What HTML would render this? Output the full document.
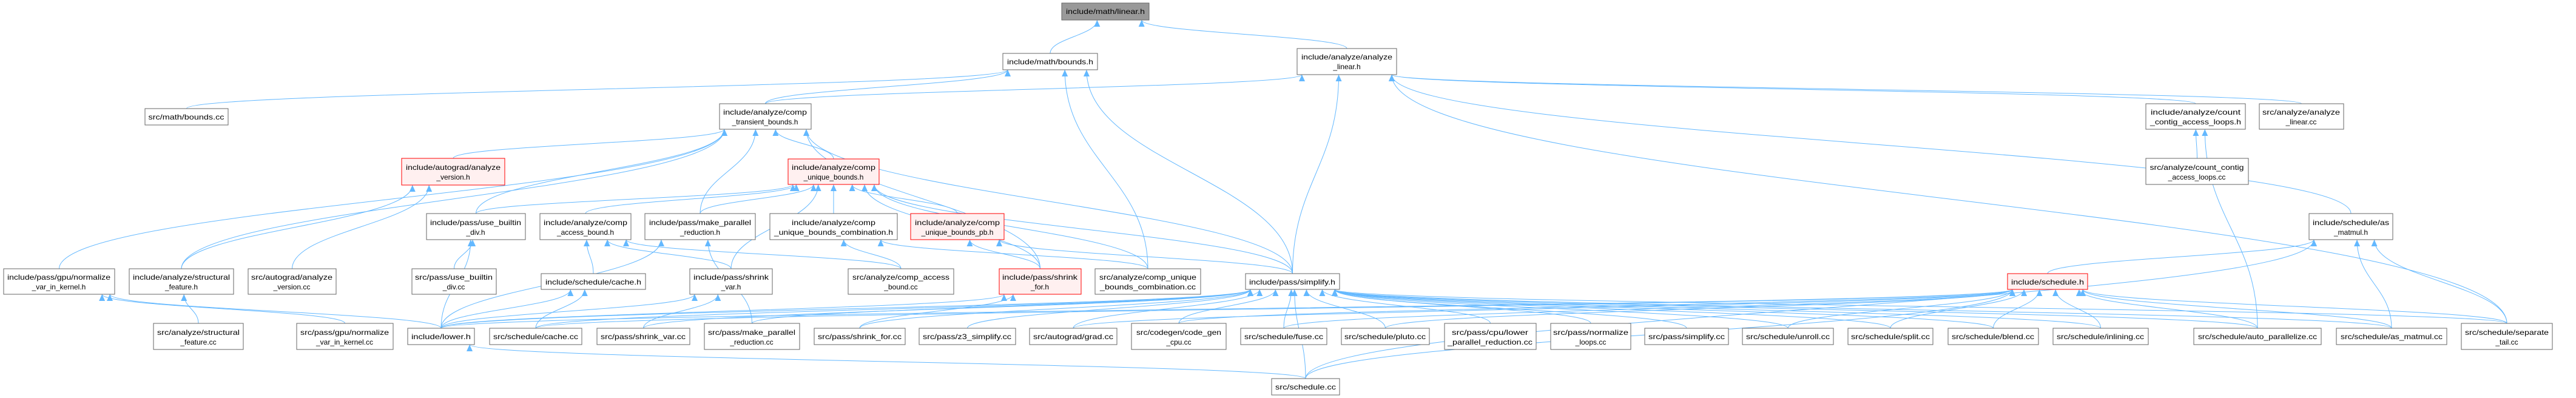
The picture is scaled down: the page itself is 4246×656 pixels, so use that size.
<!DOCTYPE html>
<html><head><meta charset="utf-8">
<style>
html,body{margin:0;padding:0;background:#fff;}
svg{display:block;}
text{font-family:"Liberation Sans",sans-serif;font-size:12px;fill:#000;}
</style></head>
<body>
<svg id="g" xmlns="http://www.w3.org/2000/svg" width="4246" height="656" viewBox="0 0 4246 656">
<defs>
<marker id="ah" markerUnits="userSpaceOnUse" markerWidth="12" markerHeight="10" refX="11" refY="5" orient="auto">
<path d="M0,0 L11,5 L0,10 z" fill="#63b8ff"/>
</marker>
</defs>
<g id="edges" fill="none" stroke="#63b8ff" stroke-width="1"></g>
<g id="nodes" stroke-width="1">
<rect x="1750" y="5" width="144" height="28" fill="#999" stroke="#666"/><text x="1822" y="23" text-anchor="middle" textLength="130" lengthAdjust="spacingAndGlyphs">include/math/linear.h</text>
<rect x="1653" y="88" width="156" height="27" fill="#fff" stroke="#666"/><text x="1731" y="106" text-anchor="middle" textLength="142" lengthAdjust="spacingAndGlyphs">include/math/bounds.h</text>
<rect x="2138" y="80" width="164" height="43" fill="#fff" stroke="#666"/><text x="2220" y="98" text-anchor="middle" textLength="150" lengthAdjust="spacingAndGlyphs">include/analyze/analyze</text><text x="2220" y="114" text-anchor="middle">_linear.h</text>
<rect x="239" y="179" width="137" height="27" fill="#fff" stroke="#666"/><text x="307" y="197" text-anchor="middle" textLength="125" lengthAdjust="spacingAndGlyphs">src/math/bounds.cc</text>
<rect x="1186" y="171" width="151" height="42" fill="#fff" stroke="#666"/><text x="1261" y="189" text-anchor="middle" textLength="138" lengthAdjust="spacingAndGlyphs">include/analyze/comp</text><text x="1261" y="205" text-anchor="middle">_transient_bounds.h</text>
<rect x="3537" y="171" width="164" height="42" fill="#fff" stroke="#666"/><text x="3619" y="189" text-anchor="middle" textLength="148" lengthAdjust="spacingAndGlyphs">include/analyze/count</text><text x="3619" y="205" text-anchor="middle" textLength="150" lengthAdjust="spacingAndGlyphs">_contig_access_loops.h</text>
<rect x="3724" y="171" width="139" height="42" fill="#fff" stroke="#666"/><text x="3793" y="189" text-anchor="middle" textLength="128" lengthAdjust="spacingAndGlyphs">src/analyze/analyze</text><text x="3793" y="205" text-anchor="middle">_linear.cc</text>
<rect x="662" y="261" width="170" height="44" fill="#fff0f0" stroke="#f00"/><text x="747" y="280" text-anchor="middle" textLength="156" lengthAdjust="spacingAndGlyphs">include/autograd/analyze</text><text x="747" y="296" text-anchor="middle">_version.h</text>
<rect x="1299" y="262" width="150" height="42" fill="#fff0f0" stroke="#f00"/><text x="1374" y="280" text-anchor="middle" textLength="138" lengthAdjust="spacingAndGlyphs">include/analyze/comp</text><text x="1374" y="296" text-anchor="middle">_unique_bounds.h</text>
<rect x="3537" y="261" width="169" height="43" fill="#fff" stroke="#666"/><text x="3621" y="280" text-anchor="middle" textLength="155" lengthAdjust="spacingAndGlyphs">src/analyze/count_contig</text><text x="3621" y="296" text-anchor="middle">_access_loops.cc</text>
<rect x="703" y="352" width="163" height="43" fill="#fff" stroke="#666"/><text x="784" y="371" text-anchor="middle" textLength="150" lengthAdjust="spacingAndGlyphs">include/pass/use_builtin</text><text x="784" y="387" text-anchor="middle">_div.h</text>
<rect x="890" y="352" width="150" height="43" fill="#fff" stroke="#666"/><text x="965" y="371" text-anchor="middle" textLength="138" lengthAdjust="spacingAndGlyphs">include/analyze/comp</text><text x="965" y="387" text-anchor="middle">_access_bound.h</text>
<rect x="1063" y="352" width="182" height="43" fill="#fff" stroke="#666"/><text x="1154" y="371" text-anchor="middle" textLength="168" lengthAdjust="spacingAndGlyphs">include/pass/make_parallel</text><text x="1154" y="387" text-anchor="middle">_reduction.h</text>
<rect x="1269" y="352" width="210" height="43" fill="#fff" stroke="#666"/><text x="1374" y="371" text-anchor="middle" textLength="138" lengthAdjust="spacingAndGlyphs">include/analyze/comp</text><text x="1374" y="387" text-anchor="middle" textLength="196" lengthAdjust="spacingAndGlyphs">_unique_bounds_combination.h</text>
<rect x="1501" y="352" width="154" height="43" fill="#fff0f0" stroke="#f00"/><text x="1578" y="371" text-anchor="middle" textLength="140" lengthAdjust="spacingAndGlyphs">include/analyze/comp</text><text x="1578" y="387" text-anchor="middle">_unique_bounds_pb.h</text>
<rect x="3806" y="352" width="138" height="43" fill="#fff" stroke="#666"/><text x="3875" y="371" text-anchor="middle" textLength="126" lengthAdjust="spacingAndGlyphs">include/schedule/as</text><text x="3875" y="387" text-anchor="middle">_matmul.h</text>
<rect x="6" y="443" width="183" height="42" fill="#fff" stroke="#666"/><text x="97" y="461" text-anchor="middle" textLength="170" lengthAdjust="spacingAndGlyphs">include/pass/gpu/normalize</text><text x="97" y="477" text-anchor="middle">_var_in_kernel.h</text>
<rect x="213" y="443" width="172" height="42" fill="#fff" stroke="#666"/><text x="299" y="461" text-anchor="middle" textLength="160" lengthAdjust="spacingAndGlyphs">include/analyze/structural</text><text x="299" y="477" text-anchor="middle">_feature.h</text>
<rect x="409" y="443" width="145" height="42" fill="#fff" stroke="#666"/><text x="481" y="461" text-anchor="middle" textLength="134" lengthAdjust="spacingAndGlyphs">src/autograd/analyze</text><text x="481" y="477" text-anchor="middle">_version.cc</text>
<rect x="679" y="443" width="139" height="42" fill="#fff" stroke="#666"/><text x="748" y="461" text-anchor="middle" textLength="128" lengthAdjust="spacingAndGlyphs">src/pass/use_builtin</text><text x="748" y="477" text-anchor="middle">_div.cc</text>
<rect x="892" y="451" width="172" height="26" fill="#fff" stroke="#666"/><text x="978" y="469" text-anchor="middle" textLength="158" lengthAdjust="spacingAndGlyphs">include/schedule/cache.h</text>
<rect x="1137" y="443" width="136" height="42" fill="#fff" stroke="#666"/><text x="1205" y="461" text-anchor="middle" textLength="124" lengthAdjust="spacingAndGlyphs">include/pass/shrink</text><text x="1205" y="477" text-anchor="middle">_var.h</text>
<rect x="1398" y="443" width="174" height="42" fill="#fff" stroke="#666"/><text x="1485" y="461" text-anchor="middle" textLength="160" lengthAdjust="spacingAndGlyphs">src/analyze/comp_access</text><text x="1485" y="477" text-anchor="middle">_bound.cc</text>
<rect x="1647" y="443" width="135" height="42" fill="#fff0f0" stroke="#f00"/><text x="1714" y="461" text-anchor="middle" textLength="124" lengthAdjust="spacingAndGlyphs">include/pass/shrink</text><text x="1714" y="477" text-anchor="middle">_for.h</text>
<rect x="1805" y="443" width="174" height="42" fill="#fff" stroke="#666"/><text x="1892" y="461" text-anchor="middle" textLength="160" lengthAdjust="spacingAndGlyphs">src/analyze/comp_unique</text><text x="1892" y="477" text-anchor="middle" textLength="158" lengthAdjust="spacingAndGlyphs">_bounds_combination.cc</text>
<rect x="2053" y="451" width="155" height="26" fill="#fff" stroke="#666"/><text x="2130" y="469" text-anchor="middle" textLength="142" lengthAdjust="spacingAndGlyphs">include/pass/simplify.h</text>
<rect x="3309" y="451" width="132" height="26" fill="#fff0f0" stroke="#f00"/><text x="3375" y="469" text-anchor="middle" textLength="120" lengthAdjust="spacingAndGlyphs">include/schedule.h</text>
<rect x="253" y="533" width="148" height="43" fill="#fff" stroke="#666"/><text x="327" y="552" text-anchor="middle" textLength="136" lengthAdjust="spacingAndGlyphs">src/analyze/structural</text><text x="327" y="568" text-anchor="middle">_feature.cc</text>
<rect x="489" y="533" width="159" height="43" fill="#fff" stroke="#666"/><text x="568" y="552" text-anchor="middle" textLength="146" lengthAdjust="spacingAndGlyphs">src/pass/gpu/normalize</text><text x="568" y="568" text-anchor="middle">_var_in_kernel.cc</text>
<rect x="672" y="541" width="110" height="27" fill="#fff" stroke="#666"/><text x="727" y="559" text-anchor="middle" textLength="98" lengthAdjust="spacingAndGlyphs">include/lower.h</text>
<rect x="807" y="541" width="152" height="27" fill="#fff" stroke="#666"/><text x="883" y="559" text-anchor="middle" textLength="140" lengthAdjust="spacingAndGlyphs">src/schedule/cache.cc</text>
<rect x="984" y="541" width="153" height="27" fill="#fff" stroke="#666"/><text x="1060" y="559" text-anchor="middle" textLength="140" lengthAdjust="spacingAndGlyphs">src/pass/shrink_var.cc</text>
<rect x="1161" y="533" width="157" height="43" fill="#fff" stroke="#666"/><text x="1239" y="552" text-anchor="middle" textLength="144" lengthAdjust="spacingAndGlyphs">src/pass/make_parallel</text><text x="1239" y="568" text-anchor="middle">_reduction.cc</text>
<rect x="1342" y="541" width="150" height="27" fill="#fff" stroke="#666"/><text x="1417" y="559" text-anchor="middle" textLength="138" lengthAdjust="spacingAndGlyphs">src/pass/shrink_for.cc</text>
<rect x="1515" y="541" width="159" height="27" fill="#fff" stroke="#666"/><text x="1594" y="559" text-anchor="middle" textLength="146" lengthAdjust="spacingAndGlyphs">src/pass/z3_simplify.cc</text>
<rect x="1697" y="541" width="144" height="27" fill="#fff" stroke="#666"/><text x="1769" y="559" text-anchor="middle" textLength="132" lengthAdjust="spacingAndGlyphs">src/autograd/grad.cc</text>
<rect x="1865" y="533" width="156" height="43" fill="#fff" stroke="#666"/><text x="1943" y="552" text-anchor="middle" textLength="140" lengthAdjust="spacingAndGlyphs">src/codegen/code_gen</text><text x="1943" y="568" text-anchor="middle">_cpu.cc</text>
<rect x="2045" y="541" width="142" height="27" fill="#fff" stroke="#666"/><text x="2116" y="559" text-anchor="middle" textLength="130" lengthAdjust="spacingAndGlyphs">src/schedule/fuse.cc</text>
<rect x="2211" y="541" width="145" height="27" fill="#fff" stroke="#666"/><text x="2283" y="559" text-anchor="middle" textLength="134" lengthAdjust="spacingAndGlyphs">src/schedule/pluto.cc</text>
<rect x="2381" y="533" width="151" height="43" fill="#fff" stroke="#666"/><text x="2456" y="552" text-anchor="middle" textLength="126" lengthAdjust="spacingAndGlyphs">src/pass/cpu/lower</text><text x="2456" y="568" text-anchor="middle" textLength="140" lengthAdjust="spacingAndGlyphs">_parallel_reduction.cc</text>
<rect x="2556" y="533" width="132" height="43" fill="#fff" stroke="#666"/><text x="2622" y="552" text-anchor="middle" textLength="124" lengthAdjust="spacingAndGlyphs">src/pass/normalize</text><text x="2622" y="568" text-anchor="middle">_loops.cc</text>
<rect x="2711" y="541" width="138" height="27" fill="#fff" stroke="#666"/><text x="2780" y="559" text-anchor="middle" textLength="126" lengthAdjust="spacingAndGlyphs">src/pass/simplify.cc</text>
<rect x="2872" y="541" width="150" height="27" fill="#fff" stroke="#666"/><text x="2947" y="559" text-anchor="middle" textLength="138" lengthAdjust="spacingAndGlyphs">src/schedule/unroll.cc</text>
<rect x="3046" y="541" width="140" height="27" fill="#fff" stroke="#666"/><text x="3116" y="559" text-anchor="middle" textLength="130" lengthAdjust="spacingAndGlyphs">src/schedule/split.cc</text>
<rect x="3211" y="541" width="149" height="27" fill="#fff" stroke="#666"/><text x="3285" y="559" text-anchor="middle" textLength="136" lengthAdjust="spacingAndGlyphs">src/schedule/blend.cc</text>
<rect x="3384" y="541" width="157" height="27" fill="#fff" stroke="#666"/><text x="3462" y="559" text-anchor="middle" textLength="144" lengthAdjust="spacingAndGlyphs">src/schedule/inlining.cc</text>
<rect x="3616" y="541" width="210" height="27" fill="#fff" stroke="#666"/><text x="3721" y="559" text-anchor="middle" textLength="196" lengthAdjust="spacingAndGlyphs">src/schedule/auto_parallelize.cc</text>
<rect x="3851" y="541" width="182" height="27" fill="#fff" stroke="#666"/><text x="3942" y="559" text-anchor="middle" textLength="168" lengthAdjust="spacingAndGlyphs">src/schedule/as_matmul.cc</text>
<rect x="4057" y="533" width="150" height="43" fill="#fff" stroke="#666"/><text x="4132" y="552" text-anchor="middle" textLength="138" lengthAdjust="spacingAndGlyphs">src/schedule/separate</text><text x="4132" y="568" text-anchor="middle">_tail.cc</text>
<rect x="2096" y="624" width="112" height="27" fill="#fff" stroke="#666"/><text x="2152" y="642" text-anchor="middle" textLength="100" lengthAdjust="spacingAndGlyphs">src/schedule.cc</text>
</g>
</svg>
<script>
var N={L:[1750,5,144,28],MB:[1653,88,156,27],AL:[2138,80,164,43],MBC:[239,179,137,27],CT:[1186,171,151,42],CC:[3537,171,164,42],ALC:[3724,171,139,42],AV:[662,261,170,44],CU:[1299,262,150,42],CCC:[3537,261,169,43],UBD:[703,352,163,43],CAB:[890,352,150,43],MPR:[1063,352,182,43],CUC:[1269,352,210,43],CUP:[1501,352,154,43],ASM:[3806,352,138,43],NVK:[6,443,183,42],SF:[213,443,172,42],AVC:[409,443,145,42],UBDC:[679,443,139,42],CH:[892,451,172,26],SV:[1137,443,136,42],CABC:[1398,443,174,42],SFH:[1647,443,135,42],CUCC:[1805,443,174,42],SIM:[2053,451,155,26],SCH:[3309,451,132,26],SFC:[253,533,148,43],NVKC:[489,533,159,43],LOW:[672,541,110,27],CHC:[807,541,152,27],SVC:[984,541,153,27],MPRC:[1161,533,157,43],SFORC:[1342,541,150,27],Z3:[1515,541,159,27],GRAD:[1697,541,144,27],CGC:[1865,533,156,43],FUSE:[2045,541,142,27],PLUTO:[2211,541,145,27],LPR:[2381,533,151,43],NL:[2556,533,132,43],SIMC:[2711,541,138,27],UNR:[2872,541,150,27],SPL:[3046,541,140,27],BLEND:[3211,541,149,27],INL:[3384,541,157,27],AP:[3616,541,210,27],ASMC:[3851,541,182,27],STC:[4057,533,150,43],SCHC:[2096,624,112,27]};
var E=[["MB","L"],["AL","L"],["MBC","MB"],["CT","MB"],["CT","AL"],["CU","CT"],["AV","CT"],["CC","AL"],["ALC","AL"],["ASM","AL"],["STC","AL"],["CCC","CC"],["AP","CC"],["SCH","ASM"],["ASMC","ASM"],["STC","ASM"],["SCHC","ASM"],
["CUC","CU"],["CUP","CU"],["SFH","CU"],["SIM","CU"],["SIM","CT"],["SIM","MB"],["SIM","AL"],["SFH","CT"],["CAB","CU"],["MPR","CU"],["UBD","CU"],["SV","CU"],["MPR","CT"],["UBD","CT"],["NVK","CT"],["SF","CT"],["AVC","AV"],["SF","AV"],["CUCC","CUC"],["CUCC","MB"],["CUCC","CU"],["CABC","CAB"],["CABC","CUC"],["SFH","CUP"],["SIM","CUP"],["SV","CAB"],["CH","CAB"],["LOW","UBD"],["UBDC","UBD"],["NVKC","NVK"],["LOW","NVK"],["SFC","SF"],["CHC","CH"],["LOW","CH"],["SVC","SV"],["LOW","SV"],["MPRC","MPR"],["LOW","MPR"],["SFORC","SFH"],["LOW","SFH"],
["LOW","SIM"],["Z3","SIM"],["GRAD","SIM"],["CGC","SIM"],["FUSE","SIM"],["PLUTO","SIM"],["LPR","SIM"],["NL","SIM"],["SIMC","SIM"],["UNR","SIM"],["SPL","SIM"],["BLEND","SIM"],["INL","SIM"],["AP","SIM"],["ASMC","SIM"],["STC","SIM"],["MPRC","SIM"],["SFORC","SIM"],["CHC","SIM"],["SVC","SIM"],
["LOW","SCH"],["FUSE","SCH"],["PLUTO","SCH"],["UNR","SCH"],["SPL","SCH"],["BLEND","SCH"],["INL","SCH"],["AP","SCH"],["ASMC","SCH"],["STC","SCH"],["SCHC","SCH"],["CHC","SCH"],["GRAD","SCH"],["CGC","SCH"],["SCHC","LOW"],["SCHC","SIM"]];
var g=document.getElementById("edges"),h="";
E.forEach(function(e){var s=N[e[0]],t=N[e[1]];
var sx=s[0]+s[2]/2,sy=s[1],tx=t[0]+t[2]/2,ty=t[1]+t[3];
var d=Math.abs(sx-tx);
if(sy<=ty+2){ // same level or below-target: go to target side
 sy=s[1]+s[3]/2; ty=t[1]+t[3]/2;
 if(tx>sx){tx=t[0];}else{tx=t[0]+t[2];}
 sx=s[0]+s[2]/2;sy=s[1];
 var p="M"+sx+","+sy+" C"+sx+","+(sy-40)+" "+(tx+(tx>sx?-60:60))+","+ty+" "+tx+","+ty;
}else{
 var off=Math.max(-t[2]/2+8,Math.min(t[2]/2-8,(sx-tx)*0.15)); tx+=off;
 var dy=sy-ty;
 var p="M"+sx+","+sy+" C"+sx+","+(sy-dy*0.45)+" "+tx+","+(ty+dy*0.45)+" "+tx+","+ty;
}
h+='<path d="'+p+'" marker-end="url(#ah)"/>';});
g.innerHTML=h;
</script>
</body></html>
